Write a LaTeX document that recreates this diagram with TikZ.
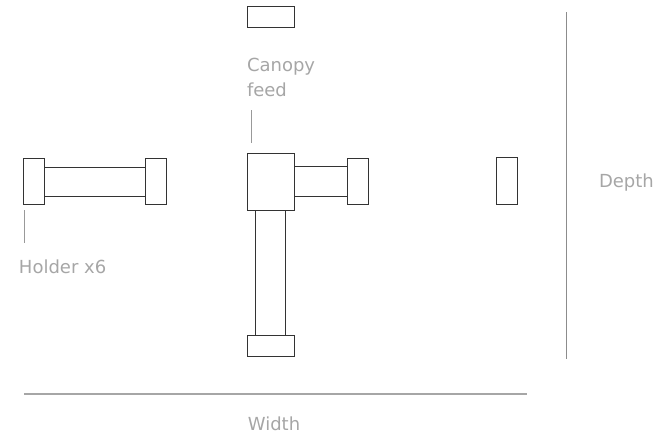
\documentclass[tikz,border=0pt]{standalone}
\usepackage{fontspec}
\setmainfont{DejaVu Sans}
\begin{document}
\begin{tikzpicture}[x=1pt,y=-1pt,
  part/.style={draw=black!80,line width=0.8pt,fill=white,rectangle,inner sep=0pt,outer sep=0pt},
  lbl/.style={text=black!35,font=\fontsize{18}{25}\selectfont,inner sep=0pt,outer sep=0pt},
  guide/.style={draw=black!40,line width=1pt}]
\useasboundingbox (0,0) rectangle (665,437);
% bars first
\node[part,minimum width=102pt,minimum height=29pt] (lbar) at (94.5,181.5) {};
\node[part,minimum width=53pt,minimum height=30pt] (rbar) at (320.5,181.5) {};
\node[part,minimum width=30pt,minimum height=126pt] (vbar) at (270.7,272.8) {};
% holders
\node[part,minimum width=21pt,minimum height=46pt] (h1) at (33.5,181) {};
\node[part,minimum width=21pt,minimum height=46pt] (h2) at (155.5,181) {};
\node[part,minimum width=47pt,minimum height=57pt] (hub) at (270.5,181.5) {};
\node[part,minimum width=21pt,minimum height=46pt] (h3) at (357.5,181) {};
\node[part,minimum width=47pt,minimum height=21pt] (h4) at (270.5,346) {};
\node[part,minimum width=47pt,minimum height=21pt] (top) at (270.5,16.5) {};
\node[part,minimum width=21pt,minimum height=47pt] (h5) at (507.3,181.3) {};
% labels
\node[lbl,anchor=west,align=left] (canopy) at (247,77.5) {Canopy\\feed};
\node[lbl,anchor=west] (holder) at (19,267) {Holder x6};
\node[lbl,anchor=west] (depth) at (599,183) {Depth};
\node[lbl] (width) at (274,424) {Width};
% leader lines
\coordinate (c1) at (251,110);
\coordinate (c2) at (251,143);
\draw[guide] (c1) -- (c2);
\coordinate (l1) at (24.5,210);
\coordinate (l2) at (24.5,243);
\draw[guide] (l1) -- (l2);
% dimension lines
\coordinate (d1) at (566,12);
\coordinate (d2) at (566,359);
\draw[guide,draw=black!45] (d1) -- (d2);
\coordinate (w1) at (24,394);
\coordinate (w2) at (527,394);
\draw[guide,draw=black!35,line width=1.3pt] (w1) -- (w2);
\end{tikzpicture}
\end{document}
